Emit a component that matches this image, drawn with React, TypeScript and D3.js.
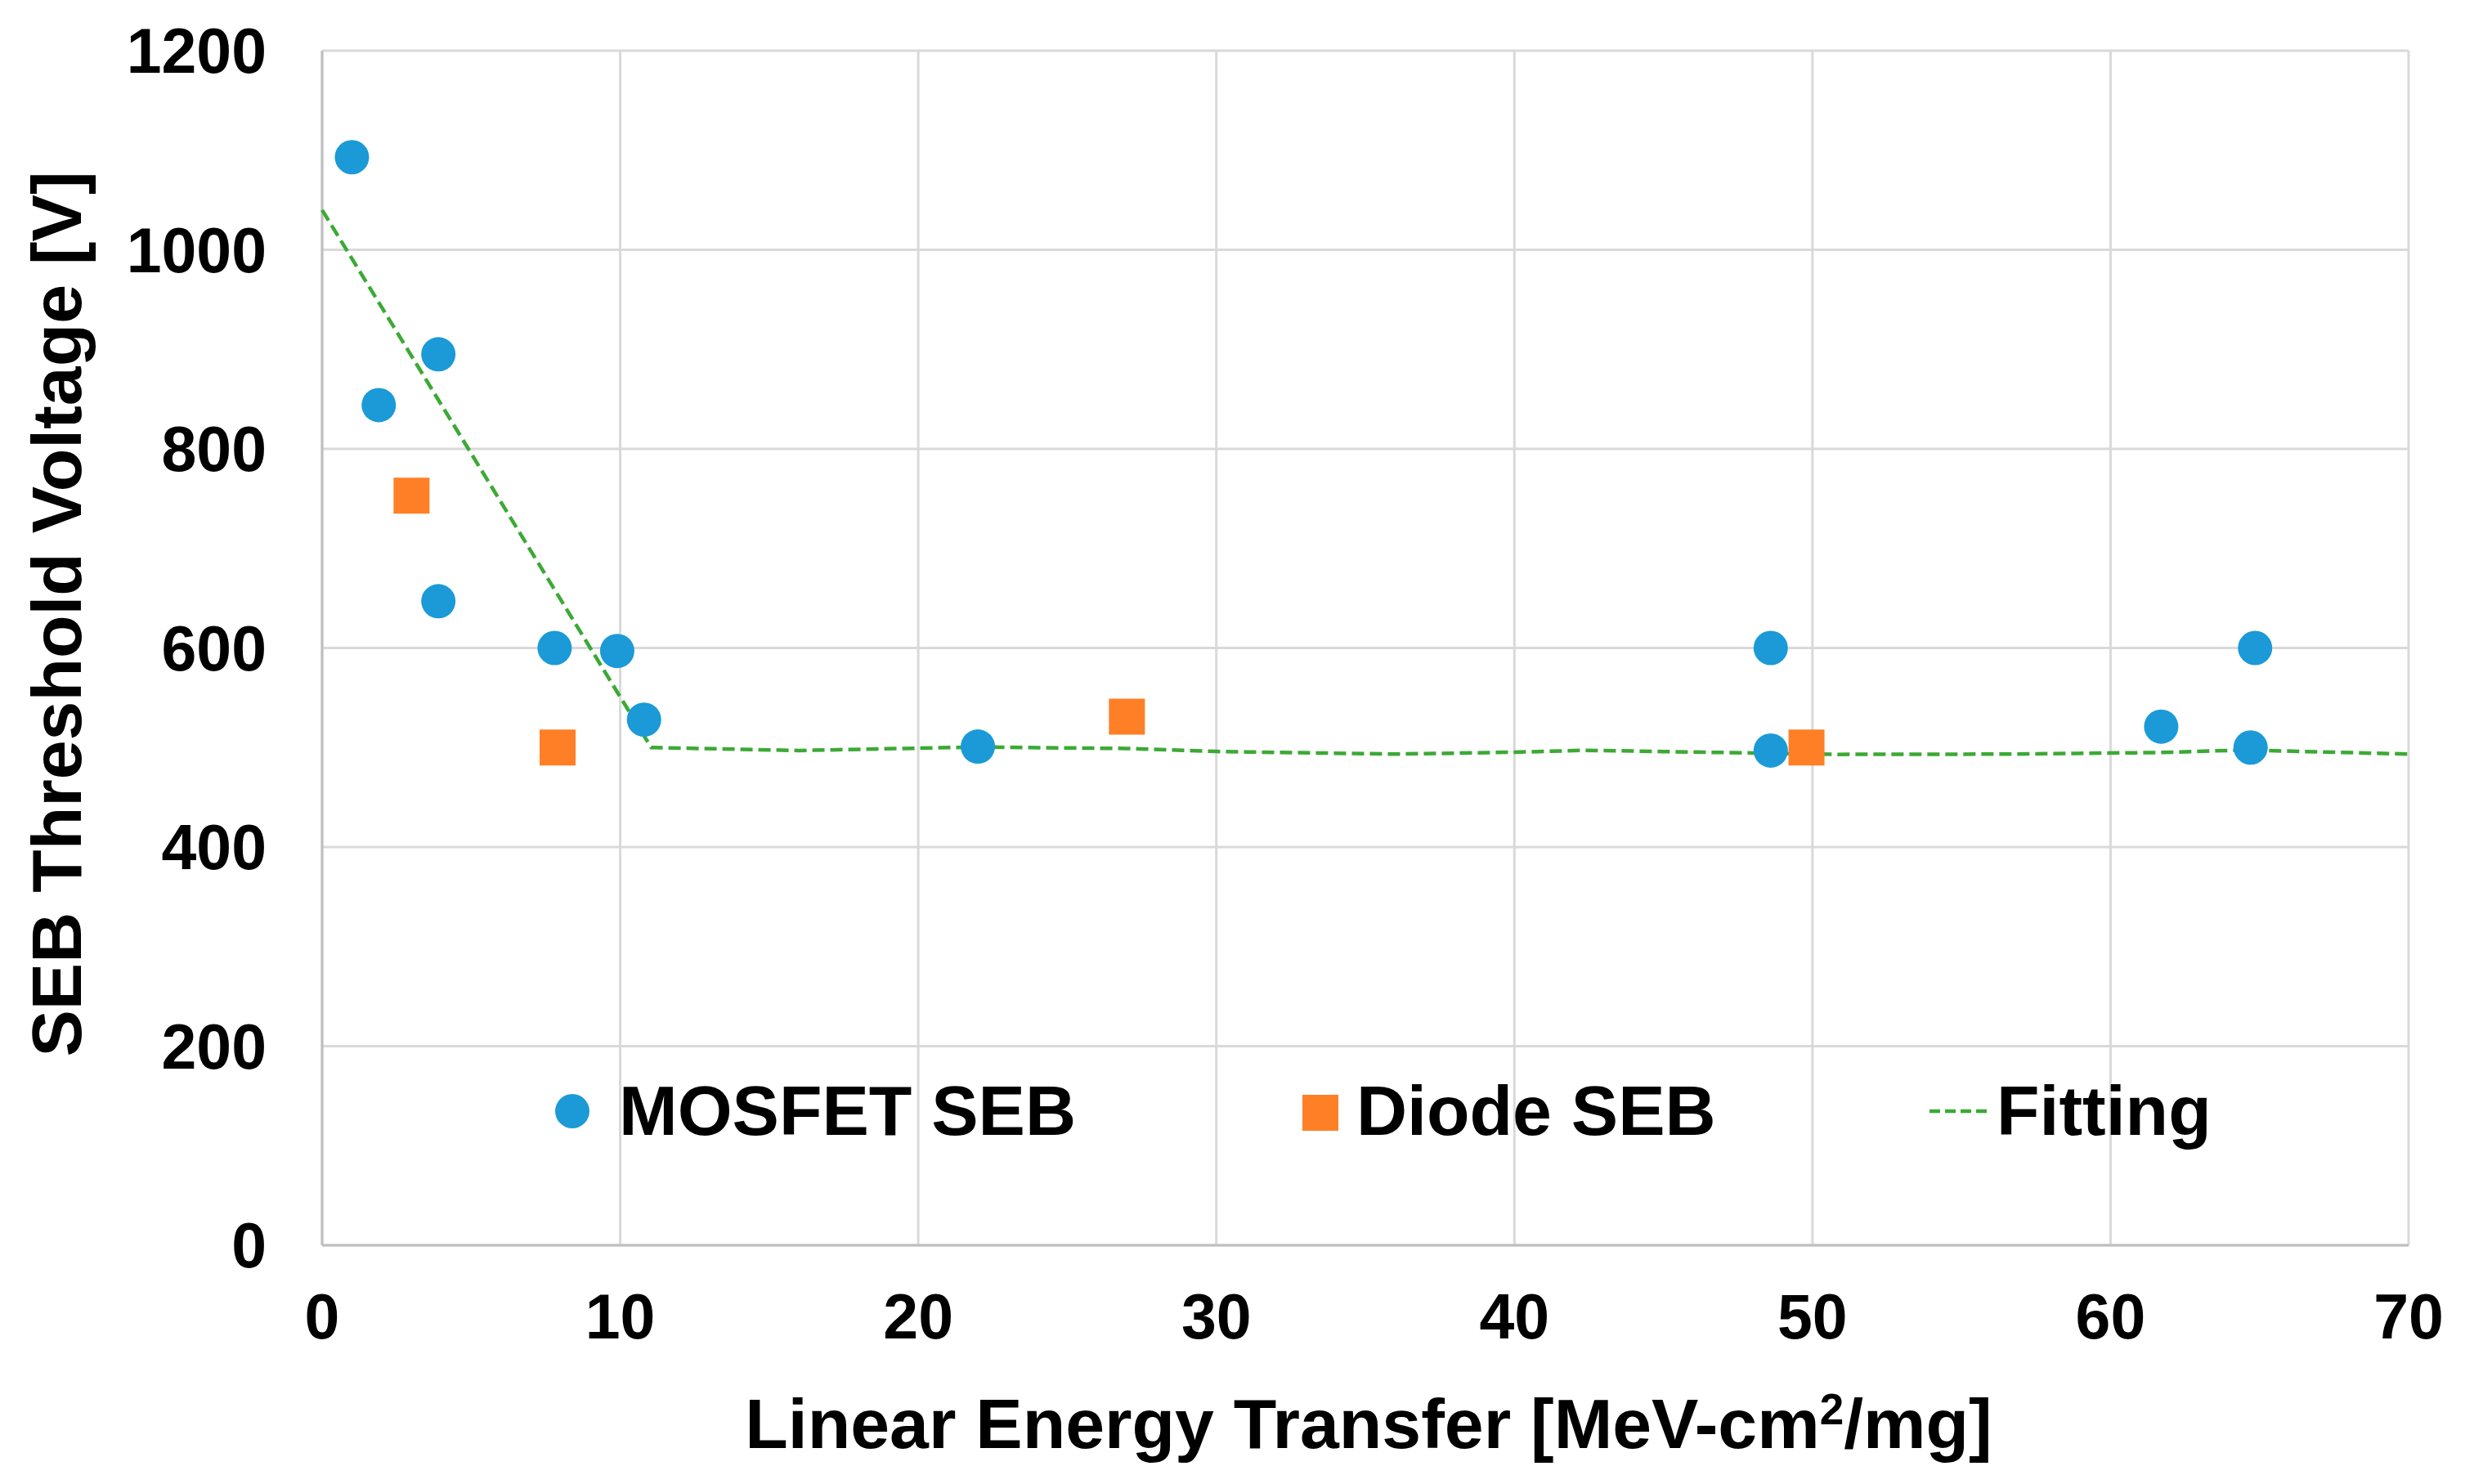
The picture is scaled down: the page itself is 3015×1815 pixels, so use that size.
import React from "react";
import * as d3 from "d3";

const mosfetX = [1.0, 1.9, 3.9, 3.9, 7.8, 9.9, 10.8, 22.0, 48.6, 48.6, 61.7, 64.85, 64.7];
const mosfetY = [1093, 844, 895, 647, 600, 597, 528, 501, 600, 497, 521, 600, 500];
const diodeX = [3.0, 7.9, 27.0, 49.8];
const diodeY = [753, 500, 531, 500];
const fitX = [0, 11.04, 16, 22, 27, 30, 36, 40, 42.4, 48, 50.7, 56.6, 61.7, 64.5, 70];
const fitY = [1040, 500, 497, 500.5, 499, 496, 493.4, 495.3, 497.2, 494.5, 493.1, 493.4, 495, 497.5, 493.4];
const xTicks = [0, 10, 20, 30, 40, 50, 60, 70];
const yTicks = [0, 200, 400, 600, 800, 1000, 1200];
const legendLabels = ["MOSFET SEB", "Diode SEB", "Fitting"];

const W = 3015;
const H = 1815;
const M = { left: 394, right: 2946, top: 62, bottom: 1523 };
const BLUE = "#1B9AD7";
const ORANGE = "#FF7F27";
const GREEN = "#3CA935";
const FONT = "'Liberation Sans', Arial, Helvetica, sans-serif";

export default function App() {
  const x = d3.scaleLinear().domain([0, 70]).range([M.left, M.right]);
  const y = d3.scaleLinear().domain([0, 1200]).range([M.bottom, M.top]);
  const fitPts: [number, number][] = fitX.map((v, i) => [v, fitY[i]]);
  const line = d3
    .line<[number, number]>()
    .x((d) => x(d[0]))
    .y((d) => y(d[1]));
  const r = 21;
  const sq = 44;

  return (
    <svg
      width={W}
      height={H}
      style={{ position: "absolute", left: 0, top: 0, background: "#fff" }}
      fontFamily={FONT}
      fontWeight="bold"
    >
      <rect x={0} y={0} width={W} height={H} fill="#fff" />
      {/* grid */}
      {yTicks.map((t) => (
        <line key={"gy" + t} x1={M.left} x2={M.right} y1={y(t)} y2={y(t)} stroke="#D9D9D9" strokeWidth={3} />
      ))}
      {xTicks.map((t) => (
        <line key={"gx" + t} x1={x(t)} x2={x(t)} y1={M.top} y2={M.bottom} stroke="#D9D9D9" strokeWidth={3} />
      ))}
      {/* axes */}
      <line x1={M.left} x2={M.left} y1={M.top} y2={M.bottom} stroke="#BFBFBF" strokeWidth={3} />
      <line x1={M.left} x2={M.right} y1={M.bottom} y2={M.bottom} stroke="#BFBFBF" strokeWidth={3} />

      {/* tick labels */}
      {yTicks.map((t) => (
        <text key={"ty" + t} x={326} y={y(t)} dy="0.355em" textAnchor="end" fontSize={77} fill="#000">
          {t}
        </text>
      ))}
      {xTicks.map((t) => (
        <text key={"tx" + t} x={x(t)} y={1637} textAnchor="middle" fontSize={77} fill="#000">
          {t}
        </text>
      ))}

      {/* axis titles */}
      <text
        transform={`translate(99, 751) rotate(-90)`}
        textAnchor="middle"
        fontSize={86}
        fill="#000"
      >
        SEB Threshold Voltage [V]
      </text>
      <text x={(M.left + M.right) / 2 + 4} y={1771} textAnchor="middle" fontSize={86} fill="#000">
        Linear Energy Transfer [MeV-cm
        <tspan fontSize={53} dy={-29}>2</tspan>
        <tspan dy={29}>/mg]</tspan>
      </text>

      {/* fitting line */}
      <path d={line(fitPts) || ""} fill="none" stroke={GREEN} strokeWidth={4.5} strokeDasharray="15 7" />

      {/* MOSFET points */}
      {mosfetX.map((v, i) => (
        <circle key={"m" + i} cx={x(v)} cy={y(mosfetY[i])} r={r} fill={BLUE} />
      ))}
      {/* Diode points */}
      {diodeX.map((v, i) => (
        <rect key={"d" + i} x={x(v) - sq / 2} y={y(diodeY[i]) - sq / 2} width={sq} height={sq} fill={ORANGE} />
      ))}

      {/* legend */}
      <circle cx={700} cy={1359} r={r} fill={BLUE} />
      <text x={757} y={1388} fontSize={86} fill="#000">{legendLabels[0]}</text>
      <rect x={1615 - sq / 2} y={1361 - sq / 2} width={sq} height={sq} fill={ORANGE} />
      <text x={1659} y={1388} fontSize={86} fill="#000">{legendLabels[1]}</text>
      <line x1={2360} x2={2436} y1={1359} y2={1359} stroke={GREEN} strokeWidth={4.5} strokeDasharray="13 6" />
      <text x={2442} y={1388} fontSize={86} fill="#000">{legendLabels[2]}</text>
    </svg>
  );
}
